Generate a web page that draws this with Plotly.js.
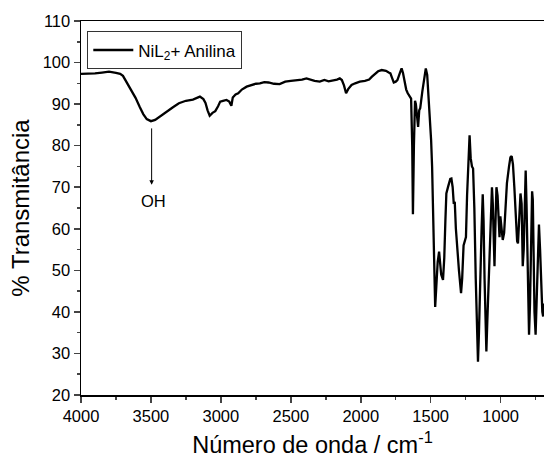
<!DOCTYPE html>
<html>
<head>
<meta charset="utf-8">
<script src="https://cdn.plot.ly/plotly-3.0.1.min.js"></script>
<style>html,body{margin:0;padding:0;background:#fff;}#chart{width:544px;height:462px;}</style>
</head>
<body>
<div id="chart"></div>
<script>
const wavenumber = [4000,3950,3900,3850,3800,3750,3720,3700,3670,3640,3610,3580,3555,3530,3500,3470,3430,3390,3340,3300,3250,3200,3170,3150,3125,3110,3095,3080,3060,3040,3020,3005,2985,2960,2940,2925,2915,2895,2876,2850,2816,2780,2750,2721,2690,2660,2620,2580,2540,2500,2460,2420,2388,2360,2330,2293,2260,2230,2198,2170,2150,2135,2120,2105,2090,2066,2040,2007,1970,1940,1920,1900,1876,1850,1820,1800,1788,1775,1764,1750,1738,1720,1708,1698,1689,1675,1664,1650,1640,1632,1627,1620,1612,1606,1598,1590,1582,1575,1560,1545,1535,1525,1515,1507,1497,1490,1483,1476,1468,1460,1450,1440,1433,1425,1412,1403,1395,1388,1375,1360,1352,1343,1335,1328,1320,1310,1298,1283,1275,1265,1257,1248,1240,1230,1222,1214,1205,1197,1188,1178,1170,1162,1155,1146,1136,1128,1122,1115,1108,1102,1095,1088,1080,1070,1062,1056,1050,1044,1038,1030,1022,1015,1008,1002,995,985,975,965,955,940,930,921,912,902,893,882,876,868,858,850,842,835,828,821,815,808,803,797,790,782,775,770,764,758,750,744,736,726,718,710,702,696,690];
const transmittance = [97.3,97.3,97.4,97.6,97.8,97.5,97.3,96.8,95.0,93.2,91.5,89.3,87.6,86.4,85.9,86.2,87.2,88.2,89.3,90.2,90.8,91.1,91.5,91.8,91.2,90.3,88.5,87.2,87.9,88.3,89.5,90.6,90.8,91.0,90.6,89.6,91.6,92.3,92.6,93.5,94.2,94.6,94.9,95.0,95.3,95.2,94.9,94.8,95.4,95.6,95.7,95.9,96.2,95.9,95.6,95.4,95.8,95.5,95.7,95.9,96.2,95.8,94.5,92.6,93.6,94.6,95.0,95.4,95.6,95.9,96.6,97.3,97.9,98.2,98.0,97.6,97.4,96.2,95.2,95.4,95.8,97.5,98.6,97.5,95.5,93.5,92.6,91.7,91.3,80,63.5,80,90.8,90.0,86,84.5,88.5,89,93,97,98.6,97,92,88.1,81.3,75,62,48,41.2,46,52,54.5,52,49,47.7,53,62,68.5,70.2,72,72.1,70,66,66.5,60,55,50,44.5,48,56,57,58,68,76,82.5,77,75,74.5,65,48,36,28,35,50,60,68.3,62,48,36,30.5,38,45,51,62,70,66,60,51,60,70,68,63,58,63,60,57.3,59,66,71,75,77.2,77.5,75.5,70,64,57,56.5,62,68.5,66,51,55,68,74,66,52,42,34.5,42,58,69,67,52,40,34.5,40,50,61,55,47,40,38.9,42];
const seriesName = 'NiL<sub>2</sub>+ Anilina';
const xTitle = 'Número de onda / cm<sup>-1</sup>';
const yTitle = '% Transmitância';
const xTicks = [4000,3500,3000,2500,2000,1500,1000];
const yTicks = [20,30,40,50,60,70,80,90,100,110];

const font = 'Liberation Sans, Arial, sans-serif';

const trace = {
  x: wavenumber, y: transmittance, type: 'scatter', mode: 'lines',
  name: seriesName, line: {color: '#000', width: 2.3}
};

const layout = {
  width: 544, height: 462,
  margin: {l: 81, r: 0, t: 21, b: 67},
  paper_bgcolor: '#fff', plot_bgcolor: '#fff',
  font: {family: font, color: '#000'},
  showlegend: true,
  legend: {x: 0.0136, y: 0.972, xanchor: 'left', yanchor: 'top',
           bordercolor: '#333', borderwidth: 1, bgcolor: '#fff',
           font: {size: 17, family: font}, itemwidth: 40,
           tracegroupgap: 0},
  xaxis: {
    range: [4000, 690], autorange: false,
    tickvals: xTicks, ticks: 'outside', ticklen: 6, tickwidth: 1.5,
    minor: {dtick: 250, ticks: 'outside', ticklen: 3, tickwidth: 1.5, tick0: 0},
    showline: true, linewidth: 1.5, linecolor: '#000', mirror: true,
    showgrid: false, zeroline: false,
    tickfont: {size: 16.5, family: font},
    title: {text: xTitle, font: {size: 23.5, family: font}, standoff: 12}
  },
  yaxis: {
    range: [20, 110], autorange: false,
    tickvals: yTicks, ticks: 'outside', ticklen: 6, tickwidth: 1.5,
    minor: {dtick: 5, ticks: 'outside', ticklen: 3, tickwidth: 1.5, tick0: 0},
    showline: true, linewidth: 1.5, linecolor: '#000', mirror: false,
    showgrid: false, zeroline: false,
    tickfont: {size: 16.5, family: font},
    title: {text: yTitle, font: {size: 24, family: font}, standoff: 6}
  },
  annotations: [
    {x: 3495, y: 70.6, ax: 3495, ay: 84.4, xref: 'x', yref: 'y', axref: 'x', ayref: 'y',
     text: ' ', font: {size: 1}, borderpad: 0, showarrow: true, arrowhead: 2, arrowsize: 0.9,
     arrowwidth: 1, arrowcolor: '#000'},
    {x: 3480, y: 66.6, xref: 'x', yref: 'y', text: 'OH', showarrow: false,
     font: {size: 16.5, family: font, color: '#000'}}
  ]
};

Plotly.newPlot('chart', [trace], layout, {displayModeBar: false, staticPlot: true});
</script>
</body>
</html>
